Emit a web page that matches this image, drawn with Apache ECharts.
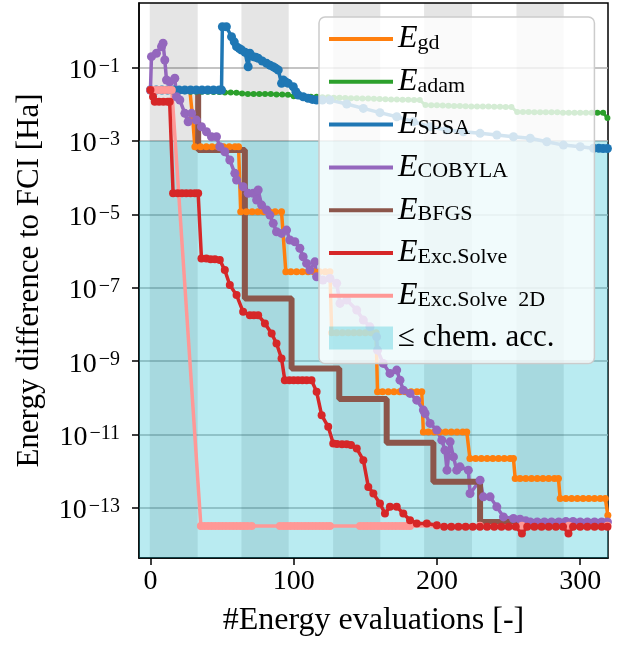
<!DOCTYPE html>
<html>
<head>
<meta charset="utf-8">
<script src="https://cdn.jsdelivr.net/npm/echarts@6/dist/echarts.min.js"></script>
<style>
  html, body { margin: 0; padding: 0; background: #fff; }
  #chart { width: 619px; height: 648px; }
</style>
</head>
<body>
<div id="chart"></div>
<script>
const FONT = 'Liberation Serif'

// axis ticks and shaded regions
const xTicks = [0, 100, 200, 300]
const yTicks = [1e-13, 1e-11, 1e-9, 1e-7, 1e-5, 1e-3, 1e-1]
const bandStarts = [-0.5, 63.5, 127.5, 191, 255.5]
const bandEnds = [33, 96.5, 160.5, 224.5, 288.5]
const chemAcc = 1e-3

// [evaluations, energy difference]
const gd = [
  [0, 2.44e-2], [4, 2.44e-2], [8, 2.44e-2], [12, 2.44e-2], [16, 2.44e-2], [20, 2.44e-2], [24, 2.44e-2], [27.5, 2.44e-2],
  [29.5, 4.0e-3],
  [31, 6.95e-4], [35, 6.95e-4], [39, 6.95e-4], [43, 6.95e-4], [47, 6.95e-4], [51, 6.95e-4], [55, 6.95e-4], [59, 6.95e-4], [61.5, 6.95e-4],
  [63, 1.17e-5], [67, 1.17e-5], [71, 1.17e-5], [75, 1.17e-5], [79, 1.17e-5], [83, 1.17e-5], [87, 1.17e-5], [91.5, 1.17e-5],
  [94.5, 2.73e-7], [98, 2.73e-7], [102, 2.73e-7], [106, 2.73e-7], [110, 2.73e-7], [114, 2.73e-7], [118, 2.73e-7], [122, 2.73e-7], [125.3, 2.73e-7],
  [126.5, 5.94e-9], [130, 5.94e-9], [134, 5.94e-9], [138, 5.94e-9], [142, 5.94e-9], [146, 5.94e-9], [150, 5.94e-9], [154, 5.94e-9], [157.5, 5.94e-9],
  [158.5, 1.47e-10], [162, 1.47e-10], [166, 1.47e-10], [170, 1.47e-10], [174, 1.47e-10], [178, 1.47e-10], [182, 1.47e-10], [186, 1.47e-10], [189.4, 1.47e-10],
  [190.5, 1.19e-11], [194, 1.19e-11], [198, 1.19e-11], [202, 1.19e-11], [206, 1.19e-11], [210, 1.19e-11], [214, 1.19e-11], [218, 1.19e-11], [220.8, 1.19e-11],
  [223, 2.24e-12], [227, 2.24e-12], [231, 2.24e-12], [235, 2.24e-12], [239, 2.24e-12], [243, 2.24e-12], [247, 2.24e-12], [251, 2.24e-12], [253.4, 2.24e-12],
  [254.6, 6.4e-13], [258, 6.4e-13], [262, 6.4e-13], [266, 6.4e-13], [270, 6.4e-13], [274, 6.4e-13], [278, 6.4e-13], [282, 6.4e-13], [284.8, 6.4e-13],
  [286, 1.82e-13], [290, 1.82e-13], [294, 1.82e-13], [298, 1.82e-13], [302, 1.82e-13], [306, 1.82e-13], [310, 1.82e-13], [314, 1.82e-13], [317.5, 1.82e-13],
  [319.3, 6.4e-14]
]

const adam = [
  [0, 2.44e-2], [4, 2.4e-2], [8, 2.35e-2], [12, 2.3e-2], [16, 2.3e-2], [20, 2.25e-2], [24, 2.25e-2], [28, 2.2e-2],
  [32, 2.2e-2], [36, 2.2e-2], [40, 2.2e-2], [44, 2.15e-2], [48, 2.15e-2], [52, 2.1e-2], [56, 2.1e-2], [60, 2.05e-2],
  [64, 1.95e-2], [68, 1.9e-2], [72, 1.9e-2], [76, 1.9e-2], [80, 1.9e-2], [84, 1.9e-2], [88, 1.85e-2], [92, 1.85e-2], [96, 1.8e-2],
  [100, 1.65e-2], [104, 1.65e-2], [108, 1.6e-2], [112, 1.6e-2], [116, 1.6e-2], [120, 1.55e-2], [124, 1.55e-2],
  [128, 1.5e-2], [132, 1.5e-2], [136, 1.48e-2], [140, 1.46e-2], [144, 1.45e-2], [148, 1.43e-2], [152, 1.42e-2], [156, 1.4e-2],
  [160, 1.38e-2], [164, 1.37e-2], [168, 1.35e-2], [172, 1.34e-2], [176, 1.33e-2], [180, 1.32e-2], [184, 1.31e-2], [188, 1.3e-2],
  [192, 9.5e-3], [196, 9.4e-3], [200, 9.3e-3], [204, 9.2e-3], [208, 9.1e-3], [212, 9.0e-3], [216, 8.9e-3], [220, 8.8e-3],
  [224, 8.7e-3], [228, 8.7e-3], [232, 8.6e-3], [236, 8.6e-3], [240, 8.5e-3], [244, 8.5e-3], [248, 8.4e-3], [252, 8.4e-3],
  [256, 6.1e-3], [260, 6.1e-3], [264, 6.1e-3], [268, 6.0e-3], [272, 6.0e-3], [276, 6.0e-3], [280, 6.0e-3], [284, 6.0e-3],
  [288, 5.9e-3], [292, 5.9e-3], [296, 5.9e-3], [300, 5.9e-3], [304, 5.9e-3], [308, 5.9e-3], [312, 5.9e-3], [316, 5.9e-3],
  [319, 4.2e-3]
]

const spsa = [
  [0, 2.44e-2], [4, 2.44e-2], [8, 2.44e-2], [12, 2.44e-2], [16, 2.44e-2], [20, 2.44e-2], [24, 2.44e-2], [28, 2.44e-2],
  [32, 2.44e-2], [36, 2.44e-2], [40, 2.44e-2], [44, 2.44e-2], [48, 2.44e-2], [49.6, 2.44e-2],
  [50.2, 1.29], [53, 1.29], [56.6, 0.69], [58.5, 0.5], [60.1, 0.369], [62, 0.33], [63.6, 0.30], [66, 0.26],
  [68.2, 0.105], [69.4, 0.244], [71.7, 0.197], [73.5, 0.19], [75.2, 0.178], [78, 0.15], [81.1, 0.13], [83.5, 0.115],
  [85.7, 0.105], [87.5, 0.095], [89.2, 0.0855], [91.5, 0.037], [92.7, 0.0456], [94.5, 0.04], [96.2, 0.037], [99.7, 0.030],
  [101.5, 0.022], [103.1, 0.0178], [106.6, 0.016], [110, 0.0145], [113, 0.0135], [116, 0.013], [120, 0.013], [125.3, 0.013],
  [137, 1.01e-2], [148.6, 7.7e-3], [160.2, 5.9e-3], [171.9, 4.57e-3], [183.5, 3.33e-3], [195.2, 2.44e-3], [206.8, 1.98e-3],
  [218.4, 1.78e-3], [230.1, 1.61e-3], [241.8, 1.45e-3], [253.4, 1.3e-3], [265.1, 1.18e-3], [276.7, 9.5e-4], [288.3, 7.7e-4],
  [300, 6.95e-4], [309.3, 6.3e-4], [313, 6.3e-4], [316, 6.2e-4], [319, 6.2e-4]
]

const cobyla = [
  [0, 2.44e-2], [0.7, 0.197], [4.2, 0.244], [7.7, 0.369], [8.8, 0.456], [10, 0.16], [11.2, 0.0456], [13.5, 0.041],
  [17, 0.0508], [18.2, 0.016], [20.5, 0.013], [24, 5.65e-3], [26.3, 3.33e-3], [28.7, 5.65e-3], [32.1, 3.7e-3],
  [35.6, 2.44e-3], [39.1, 1.78e-3], [42.6, 1.3e-3], [46.1, 1.3e-3], [48.4, 6.95e-4], [51.9, 5.08e-4], [55.4, 3.02e-4],
  [58.9, 1.31e-4], [60.1, 8.6e-5], [64.7, 5.65e-5], [68.2, 3.73e-5], [71.7, 3.73e-5], [74.1, 2.45e-5], [75.2, 4.6e-5],
  [77.6, 1.79e-5], [81.1, 1.31e-5], [83.4, 9.57e-6], [85.7, 5.69e-6], [88, 3.36e-6], [91.5, 3.03e-6], [95, 3.73e-6],
  [97.3, 2.0e-6], [100.8, 1.79e-6], [104.3, 1.19e-6], [106.6, 7.0e-7], [109, 4.62e-7], [111.3, 3.03e-7], [114.8, 5.1e-7],
  [116, 2.0e-7], [120.4, 1.62e-7], [125.3, 1.8e-7], [130, 1.32e-7], [132.3, 3.76e-8], [137, 4.62e-8], [144, 2.47e-8],
  [148.6, 1.32e-8], [153.2, 8.65e-9], [157.9, 4.62e-9], [158.5, 2.0e-9], [162.5, 8.7e-10], [167.2, 4.66e-10],
  [171.9, 5.73e-10], [174.2, 3.05e-10], [176.5, 1.63e-10], [181.2, 1.33e-10], [185.9, 8.7e-11], [190.5, 4.66e-11],
  [191.7, 3.78e-11], [195.2, 2.02e-11], [199.9, 1.33e-11], [203.4, 7.08e-12], [205.6, 3.78e-12], [207, 1.08e-12],
  [209.2, 6.37e-12], [211.5, 2.48e-12], [213.8, 1.08e-12], [216.1, 1.33e-12], [221.9, 1.08e-12], [223.1, 2.5e-13],
  [230.1, 5.75e-13], [232.4, 2.02e-13], [237.1, 2.02e-13], [241.8, 1.08e-13], [246.4, 5.75e-14], [253.4, 5.2e-14],
  [258, 5.0e-14], [262, 4.5e-14], [265.1, 4.2e-14], [270, 4.2e-14], [275, 4.2e-14], [280, 4.2e-14], [285, 4.2e-14],
  [290, 4.3e-14], [295, 4.3e-14], [300, 4.2e-14], [305, 4.2e-14], [310, 4.2e-14], [315, 4.2e-14], [319, 4.2e-14]
]

const bfgs = [
  [0, 2.44e-2], [33.3, 2.44e-2], [33.3, 5.65e-4], [65.9, 5.65e-4], [65.9, 5.14e-8], [98.5, 5.14e-8],
  [98.5, 6.37e-10], [131.8, 6.37e-10], [131.8, 9.4e-11], [164.9, 9.4e-11], [164.9, 6.05e-12], [197.5, 6.05e-12],
  [197.5, 5.18e-13], [230.1, 5.18e-13], [230.1, 4.2e-14], [319, 4.2e-14]
]

const excSolve = [
  [0, 2.44e-2], [1.8, 1.6e-2], [3, 1.17e-2], [6, 1.17e-2], [9, 1.17e-2], [12, 1.17e-2], [13.4, 1.17e-2],
  [15.8, 3.73e-5], [19, 3.73e-5], [22, 3.73e-5], [25, 3.73e-5], [28, 3.73e-5], [31, 3.73e-5], [33.3, 3.73e-5],
  [35.6, 6.32e-7], [39, 6.32e-7], [42, 6.0e-7], [45, 6.0e-7], [48.4, 5.7e-7],
  [51.9, 3.03e-7], [55.4, 1.19e-7], [60.1, 6.32e-8], [64.7, 2.22e-8], [69.4, 1.8e-8], [72.2, 1.8e-8], [75.2, 1.8e-8],
  [79.9, 1.07e-8], [84.6, 5.7e-9], [88, 3.05e-9], [91.5, 1.19e-9],
  [93.8, 3.05e-10], [97, 3.05e-10], [100, 3.05e-10], [103, 3.05e-10], [106, 3.05e-10], [109, 3.05e-10], [112.4, 3.05e-10],
  [116, 1.47e-10], [119.5, 3.4e-11], [124.1, 1.63e-11], [127.6, 5.75e-12], [130.2, 5.6e-12], [133.7, 5.5e-12],
  [137, 5.5e-12], [140, 5.2e-12], [144, 4.2e-12], [148.6, 2.02e-12], [152.1, 3.78e-13], [155.6, 2.5e-13],
  [160.2, 1.33e-13], [163.7, 7.13e-14], [167.2, 1.08e-13], [171.9, 1.08e-13], [176.5, 7.13e-14], [181.2, 4.68e-14],
  [185.9, 3.8e-14], [192.9, 3.8e-14], [199.9, 3.42e-14], [205, 3.1e-14], [210, 3.1e-14], [215, 3.1e-14], [220, 3.1e-14],
  [225, 3.1e-14], [230, 3.1e-14], [235, 3.1e-14], [240, 3.1e-14], [245, 3.1e-14], [250, 3.1e-14], [255, 3.1e-14],
  [259.3, 2.03e-14], [263, 3.1e-14], [268, 3.1e-14], [273, 3.1e-14], [278, 3.1e-14], [283, 3.1e-14], [288, 3.1e-14],
  [291.8, 2.03e-14], [295, 3.1e-14], [300, 3.1e-14], [305, 3.1e-14], [310, 3.1e-14], [315, 3.1e-14], [319, 3.1e-14]
]

const excSolve2D = [
  [0, 2.44e-2], [2.5, 2.44e-2], [5, 2.44e-2], [7.5, 2.44e-2], [10, 2.44e-2], [12.5, 2.44e-2], [14.9, 2.44e-2],
  [35.2, 3.27e-14], [37.7, 3.27e-14], [40.2, 3.27e-14], [42.7, 3.27e-14], [45.2, 3.27e-14], [47.7, 3.27e-14],
  [50.2, 3.27e-14], [52.7, 3.27e-14], [55.2, 3.27e-14], [57.7, 3.27e-14], [60.2, 3.27e-14], [62.7, 3.27e-14],
  [65.2, 3.27e-14], [67.7, 3.27e-14], [70.6, 3.27e-14],
  [90.4, 3.27e-14], [92.9, 3.27e-14], [95.4, 3.27e-14], [97.9, 3.27e-14], [100.4, 3.27e-14], [102.9, 3.27e-14],
  [105.4, 3.27e-14], [107.9, 3.27e-14], [110.4, 3.27e-14], [112.9, 3.27e-14], [115.4, 3.27e-14], [117.9, 3.27e-14],
  [120.4, 3.27e-14], [122.9, 3.27e-14], [125.3, 3.27e-14],
  [146.3, 3.27e-14], [148.8, 3.27e-14], [151.3, 3.27e-14], [153.8, 3.27e-14], [156.3, 3.27e-14], [158.8, 3.27e-14],
  [161.3, 3.27e-14], [163.8, 3.27e-14], [166.3, 3.27e-14], [168.8, 3.27e-14], [171.3, 3.27e-14], [173.8, 3.27e-14],
  [176.3, 3.27e-14], [178.8, 3.27e-14], [181.2, 3.27e-14],
  [200, 3.3e-14], [230, 3.3e-14], [259.3, 3.3e-14], [292, 3.3e-14], [319, 3.3e-14]
]

const labels = {
  gd: '{e|E}{s|gd}',
  adam: '{e|E}{s|adam}',
  SPSA: '{e|E}{s|SPSA}',
  COBYLA: '{e|E}{s|COBYLA}',
  BFGS: '{e|E}{s|BFGS}',
  'Exc.Solve': '{e|E}{s|Exc.Solve}',
  'Exc.Solve 2D': '{e|E}{s|Exc.Solve  2D}',
  chem: '≤ chem. acc.'
}

const lineIcon = 'path://M0,0H64V4H0Z'
const CYAN = 'rgba(23,190,207,0.3)'

function lineSeries(name, data, color, opts) {
  return Object.assign({
    name: name,
    type: 'line',
    data: data,
    color: color,
    symbol: 'circle',
    symbolSize: 7,
    showSymbol: true,
    lineStyle: { width: 3.5, color: color },
    itemStyle: { color: color },
    emphasis: { disabled: true }
  }, opts || {})
}

// gray bands: full height, between start/end evaluations
function renderBand(params, api) {
  const cs = params.coordSys
  const x0 = api.coord([api.value(0), chemAcc])[0]
  const x1 = api.coord([api.value(1), chemAcc])[0]
  return {
    type: 'rect',
    shape: { x: x0, y: cs.y, width: x1 - x0, height: cs.height },
    style: { fill: 'rgba(0,0,0,0.1)' }
  }
}

// chemical accuracy region: everything below the threshold
function renderChem(params, api) {
  const cs = params.coordSys
  const yTop = api.coord([0, api.value(1)])[1]
  return {
    type: 'rect',
    shape: { x: cs.x, y: yTop, width: cs.width, height: cs.y + cs.height - yTop },
    style: { fill: CYAN }
  }
}

const chart = echarts.init(document.getElementById('chart'))

chart.setOption({
  animation: false,
  grid: {
    left: 139, right: 11, top: 3, bottom: 90,
    show: true, borderColor: '#000', borderWidth: 1.5, backgroundColor: 'transparent'
  },
  xAxis: {
    type: 'value',
    min: -8,
    max: 319.4,
    name: '#Energy evaluations [-]',
    nameLocation: 'middle',
    nameGap: 47,
    nameTextStyle: { fontFamily: FONT, fontSize: 32, color: '#000' },
    axisLine: { show: true, onZero: false, lineStyle: { color: '#000', width: 1.5 } },
    axisTick: { show: true, length: 7, lineStyle: { color: '#000', width: 1.5 }, customValues: xTicks },
    axisLabel: { customValues: xTicks, fontFamily: FONT, fontSize: 28, color: '#000', margin: 10 },
    splitLine: { show: false }
  },
  yAxis: {
    type: 'log',
    logBase: 10,
    min: 4.37e-15,
    max: 5.71,
    name: 'Energy difference to FCI [Ha]',
    nameLocation: 'middle',
    nameGap: 94,
    nameTextStyle: { fontFamily: FONT, fontSize: 31, color: '#000' },
    axisLine: { show: true, onZero: false, lineStyle: { color: '#000', width: 1.5 } },
    axisTick: { show: true, length: 7, lineStyle: { color: '#000', width: 1.5 }, customValues: yTicks },
    minorTick: { show: false },
    splitLine: { show: true, lineStyle: { color: '#b0b0b0', width: 1.5 } },
    axisLabel: {
      customValues: yTicks,
      margin: 19,
      padding: [6, 0, 0, 0],
      formatter: v => {
        const e = Math.round(Math.log10(v))
        return '{b|10}{p|' + (e < 0 ? '\u2212' + (-e) : e) + '}'
      },
      rich: {
        b: { fontFamily: FONT, fontSize: 28, lineHeight: 28, color: '#000' },
        p: { fontFamily: FONT, fontSize: 20, lineHeight: 9, verticalAlign: 'top', color: '#000', padding: [0, 0, 0, 2] }
      }
    }
  },
  legend: {
    orient: 'vertical',
    left: 319,
    top: 17,
    padding: [6, 40, 10, 10],
    itemWidth: 64,
    itemHeight: 23,
    itemGap: 10.8,
    textGap: 22,
    selectedMode: false,
    backgroundColor: 'rgba(255,255,255,0.8)',
    borderColor: '#cccccc',
    borderWidth: 1.5,
    borderRadius: 6,
    formatter: name => labels[name],
    textStyle: {
      fontFamily: FONT,
      fontSize: 31,
      lineHeight: 30,
      color: '#000',
      rich: {
        e: { fontFamily: FONT, fontStyle: 'italic', fontSize: 32, lineHeight: 30, color: '#000' },
        s: { fontFamily: FONT, fontSize: 22, lineHeight: 16, verticalAlign: 'bottom', color: '#000' }
      }
    },
    data: [
      { name: 'gd', icon: lineIcon },
      { name: 'adam', icon: lineIcon },
      { name: 'SPSA', icon: lineIcon },
      { name: 'COBYLA', icon: lineIcon },
      { name: 'BFGS', icon: lineIcon },
      { name: 'Exc.Solve', icon: lineIcon },
      { name: 'Exc.Solve 2D', icon: lineIcon },
      { name: 'chem', icon: 'rect' }
    ]
  },
  series: [
    {
      name: 'bands',
      type: 'custom',
      z: 1,
      silent: true,
      renderItem: renderBand,
      encode: { x: [0, 1], y: 2 },
      data: bandStarts.map((s, i) => [s, bandEnds[i], chemAcc])
    },
    {
      name: 'chem',
      type: 'custom',
      z: 1,
      silent: true,
      color: CYAN,
      itemStyle: { color: CYAN },
      renderItem: renderChem,
      encode: { x: 0, y: 1 },
      data: [[0, chemAcc]]
    },
    lineSeries('gd', gd, '#ff7f0e', { symbolSize: 7 }),
    lineSeries('adam', adam, '#2ca02c', { symbolSize: 6, lineStyle: { width: 3, color: '#2ca02c' } }),
    lineSeries('SPSA', spsa, '#1f77b4', { symbolSize: 9 }),
    lineSeries('COBYLA', cobyla, '#9467bd', { symbolSize: 9 }),
    lineSeries('BFGS', bfgs, '#8c564b', { showSymbol: false, symbol: 'none', lineStyle: { width: 6, color: '#8c564b' } }),
    lineSeries('Exc.Solve 2D', excSolve2D, '#ff9896', { symbolSize: 8 }),
    lineSeries('Exc.Solve', excSolve, '#d62728', { symbolSize: 8 })
  ]
})
</script>
</body>
</html>
